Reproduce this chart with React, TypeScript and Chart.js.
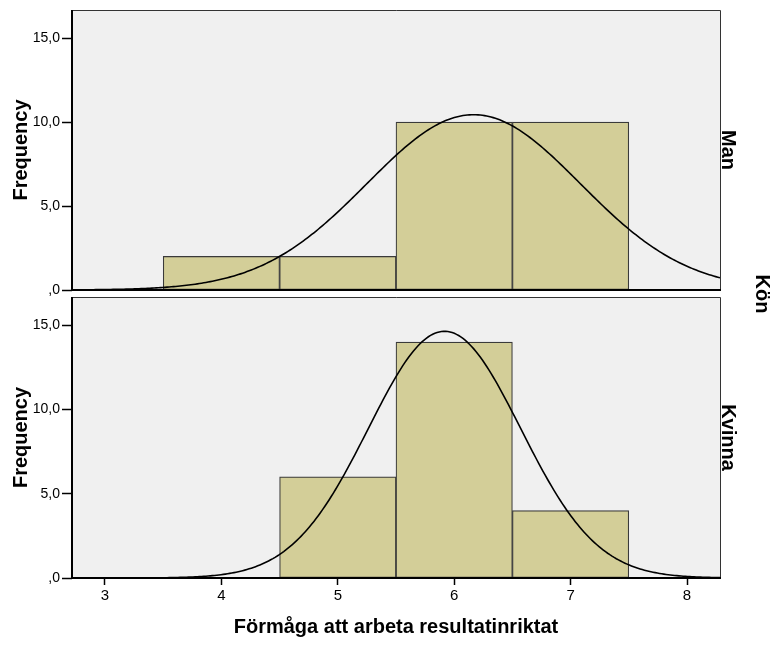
import { useEffect, useRef } from "react";
import { Chart, registerables } from "chart.js";

Chart.register(...registerables);

// Histogram data: score value (bin centre) and frequency per group
const manScores = [4, 5, 6, 7];
const manCounts = [2, 2, 10, 10];
const kvinnaScores = [5, 6, 7];
const kvinnaCounts = [6, 14, 4];

const xTickValues = [3, 4, 5, 6, 7, 8];
const yTickValues = [0, 5, 10, 15];

const groupTitle = "Kön";
const xTitle = "Förmåga att arbeta resultatinriktat";
const yTitle = "Frequency";

const X_MIN = 2.7165;
const X_MAX = 8.2835;
const Y_MAX = 16.68;
const BIN_WIDTH = 1;

const FONT = "'Liberation Sans', Arial, Helvetica, sans-serif";
const TITLE_SIZE = 20;
const BAR_FILL = "#d3ce98";
const PANEL_BG = "#f0f0f0";

// Fitted normal curve scaled to the histogram (n * bin width * density)
function normalCurve(scores: number[], counts: number[]) {
  const n = counts.reduce((a, b) => a + b, 0);
  const mean = scores.reduce((s, v, i) => s + v * counts[i], 0) / n;
  const variance =
    scores.reduce((s, v, i) => s + counts[i] * (v - mean) ** 2, 0) / (n - 1);
  const sd = Math.sqrt(variance);
  const pts: { x: number; y: number }[] = [];
  const steps = 300;
  for (let i = 0; i <= steps; i++) {
    const x = X_MIN + ((X_MAX - X_MIN) * i) / steps;
    const z = (x - mean) / sd;
    pts.push({
      x,
      y: (n * BIN_WIDTH * Math.exp(-(z * z) / 2)) / (sd * Math.sqrt(2 * Math.PI)),
    });
  }
  return pts;
}

const panelPlugin = {
  id: "panelFrame",
  beforeDraw(chart: any) {
    const { ctx, chartArea: a } = chart;
    ctx.save();
    ctx.fillStyle = PANEL_BG;
    ctx.fillRect(a.left, a.top, a.right - a.left, a.bottom - a.top);
    ctx.restore();
  },
  afterDatasetsDraw(chart: any) {
    const { ctx, chartArea: a } = chart;
    ctx.save();
    ctx.strokeStyle = "#333";
    ctx.lineWidth = 1;
    ctx.beginPath();
    ctx.moveTo(a.left, a.top + 0.5);
    ctx.lineTo(a.right + 0.5, a.top + 0.5);
    ctx.lineTo(a.right + 0.5, a.bottom);
    ctx.stroke();
    ctx.strokeStyle = "#000";
    ctx.lineWidth = 2;
    ctx.beginPath();
    ctx.moveTo(a.left, a.top);
    ctx.lineTo(a.left, a.bottom);
    ctx.lineTo(a.right + 1, a.bottom);
    ctx.stroke();
    ctx.restore();
  },
};

type PanelProps = {
  scores: number[];
  counts: number[];
  label: string;
  showX: boolean;
  top: number;
  height: number;
  padTop: number;
  padBottom: number;
  xHeight: number;
};

function Panel(p: PanelProps) {
  const ref = useRef<HTMLCanvasElement>(null);

  useEffect(() => {
    if (!ref.current) return;
    const chart = new Chart(ref.current, {
      type: "bar",
      data: {
        datasets: [
          {
            type: "line",
            data: normalCurve(p.scores, p.counts),
            borderColor: "#000",
            borderWidth: 1.6,
            pointRadius: 0,
            tension: 0,
            fill: false,
            order: 1,
          } as any,
          {
            type: "bar",
            data: p.scores.map((s, i) => ({ x: s, y: p.counts[i] })),
            backgroundColor: BAR_FILL,
            borderColor: "#3a3a3a",
            borderWidth: 1.2,
            borderSkipped: false,
            barPercentage: 1,
            categoryPercentage: 1,
            order: 2,
          } as any,
        ],
      },
      options: {
        animation: false,
        responsive: false,
        maintainAspectRatio: false,
        devicePixelRatio: 1,
        events: [],
        layout: { padding: { left: 0, right: 35, top: p.padTop, bottom: p.padBottom } },
        plugins: { legend: { display: false }, tooltip: { enabled: false } },
        scales: {
          x: {
            type: "linear",
            position: "bottom",
            offset: false,
            min: X_MIN,
            max: X_MAX,
            afterFit: (s: any) => {
              s.height = p.xHeight;
              s.paddingLeft = 0;
              s.paddingRight = 0;
            },
            afterBuildTicks: (s: any) => {
              s.ticks = xTickValues.map((v) => ({ value: v }));
            },
            ticks: {
              display: p.showX,
              color: "#000",
              padding: 2,
              font: { family: FONT, size: 15 },
              callback: (v: any) => String(v),
            },
            grid: {
              offset: false,
              drawOnChartArea: false,
              drawTicks: p.showX,
              tickLength: 7,
              tickWidth: 1.5,
              tickColor: "#000",
            },
            border: { display: false },
            title: {
              display: p.showX,
              text: xTitle,
              color: "#000",
              font: { family: FONT, size: TITLE_SIZE, weight: "bold" },
              padding: { top: 0, bottom: 10 },
            },
          },
          y: {
            type: "linear",
            position: "left",
            min: 0,
            max: Y_MAX,
            afterFit: (s: any) => {
              s.width = 72;
              s.paddingTop = 0;
              s.paddingBottom = 0;
            },
            afterBuildTicks: (s: any) => {
              s.ticks = yTickValues.map((v) => ({ value: v }));
            },
            ticks: {
              color: "#000",
              padding: 2,
              font: { family: FONT, size: 14 },
              callback: (v: any) =>
                Number(v) === 0 ? ",0" : Number(v).toFixed(1).replace(".", ","),
            },
            grid: {
              drawOnChartArea: false,
              drawTicks: true,
              tickLength: 10,
              tickWidth: 1.5,
              tickColor: "#000",
            },
            border: { display: false },
            title: {
              display: true,
              text: yTitle,
              color: "#000",
              font: { family: FONT, size: TITLE_SIZE, weight: "bold" },
              padding: { top: 9, bottom: 0 },
            },
          },
          yr: {
            type: "linear",
            position: "right",
            min: 0,
            max: Y_MAX,
            afterFit: (s: any) => {
              s.width = 20;
              s.paddingTop = 0;
              s.paddingBottom = 0;
            },
            ticks: { display: false },
            grid: { display: false },
            border: { display: false },
            title: {
              display: true,
              text: p.label,
              color: "#000",
              font: { family: FONT, size: TITLE_SIZE, weight: "bold" },
              padding: { top: 0, bottom: 0 },
            },
          },
        },
      },
      plugins: [panelPlugin],
    } as any);
    return () => chart.destroy();
  }, []);

  return (
    <canvas
      ref={ref}
      width={775}
      height={p.height}
      style={{ position: "absolute", left: 0, top: p.top, width: 775, height: p.height }}
    />
  );
}

export default function App() {
  return (
    <div
      style={{
        position: "absolute",
        left: 0,
        top: 0,
        width: 775,
        height: 649,
        background: "#fff",
        overflow: "hidden",
      }}
    >
      <Panel
        scores={manScores}
        counts={manCounts}
        label="Man"
        showX={false}
        top={0}
        height={300}
        padTop={10}
        padBottom={10}
        xHeight={0}
      />
      <Panel
        scores={kvinnaScores}
        counts={kvinnaCounts}
        label="Kvinna"
        showX={true}
        top={294}
        height={355}
        padTop={3}
        padBottom={0}
        xHeight={71}
      />
      <div
        style={{
          position: "absolute",
          left: 763,
          top: 294,
          transform: "translate(-50%, -50%)",
          writingMode: "vertical-rl",
          fontFamily: FONT,
          fontWeight: "bold",
          fontSize: TITLE_SIZE,
          lineHeight: 1,
          color: "#000",
          whiteSpace: "nowrap",
        }}
      >
        {groupTitle}
      </div>
    </div>
  );
}
